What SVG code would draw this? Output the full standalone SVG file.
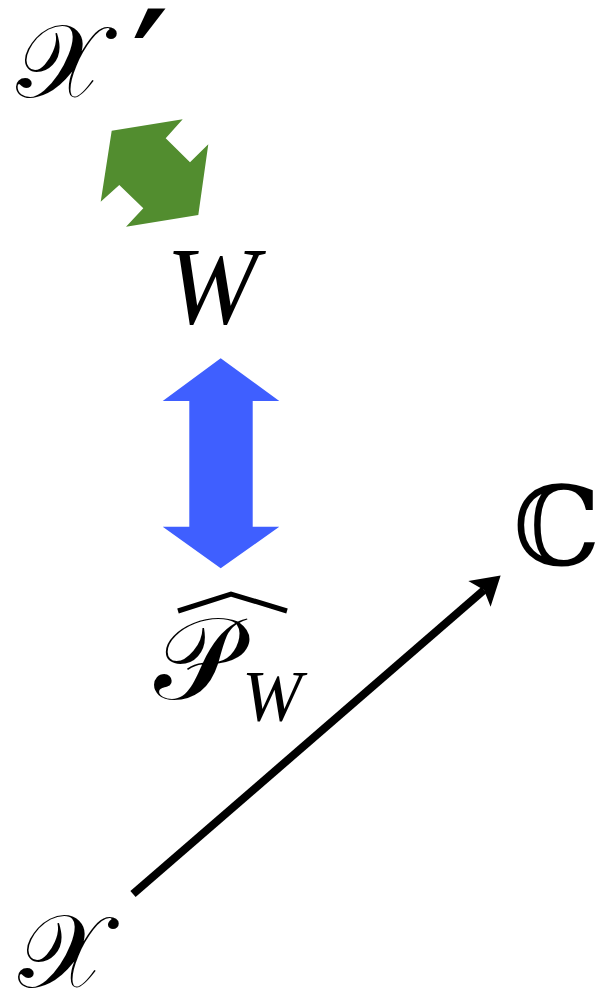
<svg xmlns="http://www.w3.org/2000/svg" width="599" height="995" viewBox="0 0 599 995">
  <style>
    .math { font-family: "DejaVu Serif", "Liberation Serif", serif; fill: #000; }
    .it { font-family: "Liberation Serif", "DejaVu Serif", serif; font-style: italic; fill: #000; }
    .edge { stroke: #000; stroke-width: 8; fill: none; }
  </style>
  <defs>
    <marker id="head" viewBox="0 0 10 10" refX="0" refY="5" markerWidth="10" markerHeight="10" markerUnits="userSpaceOnUse" orient="auto" overflow="visible">
      <path d="M -6 -12 L 22 5 L -6 22 L 0 5 Z" fill="#000"/>
    </marker>
  </defs>

  <!-- space X' -->
  <g id="node-xprime">
    <text class="math" x="16" y="97" font-size="104">𝒳</text>
    <text x="133" y="119" font-size="150" font-family="DejaVu Sans, sans-serif" stroke="#000" stroke-width="2">′</text>
  </g>

  <!-- green double arrow between X' and W -->
  <g id="arrow-green">
    <polygon fill="#528D2F" points="111.7,130.7 182.7,119.3 165.7,138.3 190,162.3 208.3,144.3 198.3,215 126,226.7 143.3,208.3 119.3,185 100.7,201.7"/>
  </g>

  <!-- W -->
  <g id="node-w">
    <text class="it" x="166" y="323" font-size="110">W</text>
  </g>

  <!-- blue double arrow between W and P_W -->
  <g id="arrow-blue">
    <polygon fill="#3F5FFF" points="220.7,358.3 279.3,401 252.7,401 252.7,526.7 279.3,526.7 220.7,568.3 162.7,526.7 189.3,526.7 189.3,401 162.7,401"/>
  </g>

  <!-- hat P_W -->
  <g id="node-pw">
    <path d="M 178 611 L 231 594 L 287 611" stroke="#000" stroke-width="5" fill="none"/>
    <text class="math" x="154" y="699" font-size="116">𝒫</text>
    <text class="it" x="242" y="720" font-size="72">W</text>
  </g>

  <!-- C -->
  <g id="node-c">
    <text class="math" x="513" y="565" font-size="110">ℂ</text>
  </g>

  <!-- X -->
  <g id="node-x">
    <text class="math" x="18" y="987" font-size="104">𝒳</text>
  </g>

  <g id="connectors">
    <line class="edge" x1="133" y1="894" x2="484" y2="590" marker-end="url(#head)"/>
  </g>
</svg>
